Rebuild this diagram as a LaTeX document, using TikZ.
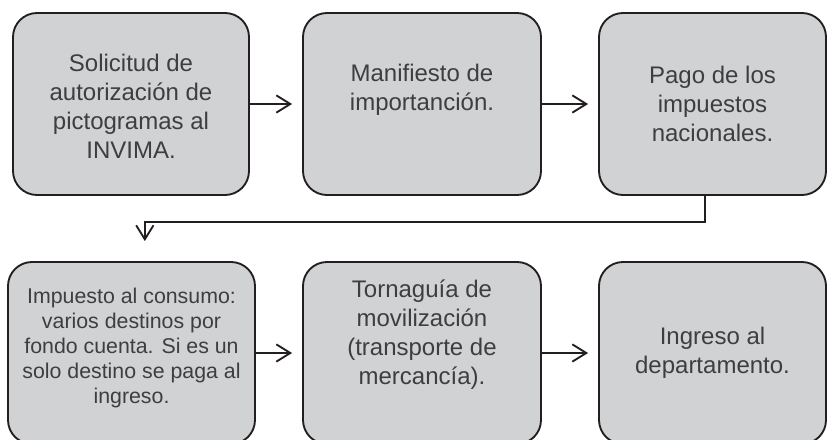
\documentclass[tikz,border=0pt]{standalone}
\usepackage{fontspec}
\setmainfont{Liberation Sans}
\usetikzlibrary{arrows.meta, positioning}
\definecolor{boxfill}{RGB}{209,210,212}
\definecolor{boxtext}{RGB}{62,62,64}
\definecolor{boxline}{RGB}{35,31,32}
\tikzset{
	graybox/.style={draw=boxline, line width=1.4pt, fill=boxfill, rounded corners=18pt, inner sep=0pt, minimum height=136.5pt}
}
\tikzset{
	bigtext/.style={align=center, text=boxtext, font=\fontsize{18}{21.75}\selectfont}
}
\tikzset{
	smalltext/.style={align=center, text=boxtext, font=\fontsize{16}{18.75}\selectfont}
}
\tikzset{
	flowline/.style={line width=1.4pt, draw=boxline, -{Straight Barb[length=10.5pt, width=13pt, line width=1.4pt]}}
}

\begin{document}
\begin{tikzpicture}[x=0.75pt, y=-0.75pt]
      \useasboundingbox (0,0) rectangle (827,439);
      \clip (0,0) rectangle (827,439);
      % top row
      \node[graybox, minimum width=177pt] (b1) at (131,104) {};
      \node[bigtext] (t1) at ([yshift=-1.5pt]b1.center) {Solicitud de\\autorización de\\pictogramas al\\INVIMA.};
      \node[graybox, minimum width=178.5pt] (b2) at (422,104) {};
      \node[bigtext] (t2) at ([yshift=10.5pt]b2.center) {Manifiesto de\\importanción.};
      \node[graybox, minimum width=170.25pt] (b3) at (712.5,104) {};
      \node[bigtext] (t3) at (b3.center) {Pago de los\\impuestos\\nacionales.};
      % bottom row, cut by the lower edge
      \node[graybox, minimum width=185.25pt] (b4) at (131.5,353) {};
      \node[smalltext] (t4) at ([yshift=3.75pt]b4.center) {Impuesto al consumo:\\varios destinos por\\fondo cuenta. Si es un\\solo destino se paga al\\ingreso.};
      \node[graybox, minimum width=178.5pt] (b5) at (422,353) {};
      \node[bigtext] (t5) at ([yshift=13.5pt]b5.center) {Tornaguía de\\movilización\\(transporte de\\mercancía).};
      \node[graybox, minimum width=170.25pt] (b6) at (712.5,353) {};
      \node[bigtext] (t6) at (b6.center) {Ingreso al\\departamento.};
      % arrows
      \draw[flowline, shorten >=7.5pt] (b1) -- (b2);
      \draw[flowline, shorten >=7.5pt] (b2) -- (b3);
      \draw[flowline, shorten >=7.5pt] (b4) -- (b5);
      \draw[flowline, shorten >=7.5pt] (b5) -- (b6);
      \draw[flowline, shorten >=15pt] ([xshift=-5.6pt]b3.south) -- ++(0,26) -| ([xshift=10pt]b4.north);
\end{tikzpicture}
\end{document}
